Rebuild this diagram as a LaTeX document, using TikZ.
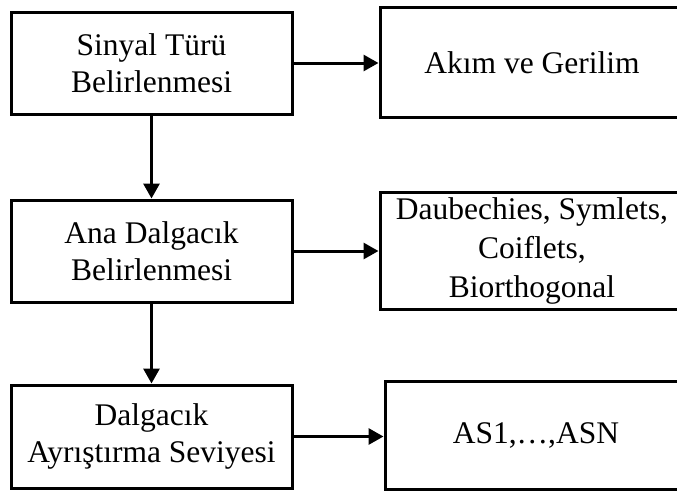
\documentclass[tikz,border=0pt]{standalone}
\usepackage{fontspec}
\setmainfont{Liberation Serif}
\usetikzlibrary{arrows.meta}

\begin{document}
\begin{tikzpicture}[x=1pt,y=-1pt,
    stage/.style={draw,line width=3pt,minimum width=281pt,minimum height=102pt,align=center,inner sep=2pt,font=\fontsize{31.5}{37}\selectfont},
    choice/.style={stage,minimum width=304pt},
    flow/.style={line width=3pt,-{Triangle[length=15pt,width=16pt]}}]
      \useasboundingbox (0,0) rectangle (677,491);
      \clip (0,0) rectangle (677,491);
      \node[stage] (stage 1) at (151.5,63) {Sinyal Türü\\Belirlenmesi};
      \node[stage] (stage 2) at (151.5,251) {Ana Dalgacık\\Belirlenmesi};
      \node[stage,minimum height=103pt] (stage 3) at (151.5,436.5) {Dalgacık\\Ayrıştırma Seviyesi};
      \node[choice,minimum height=110pt] (choice 1) at (532,62.5) {Akım ve Gerilim};
      \node[choice,minimum height=117pt,font=\fontsize{31.5}{39}\selectfont] (choice 2) at (532,250.5) {Daubechies, Symlets,\\Coiflets,\\Biorthogonal};
      \node[choice,minimum width=302pt,minimum height=108pt] (choice 3) at (536,435) {AS1,…,ASN};
      \draw[flow] (stage 1) -- (stage 2);
      \draw[flow] (stage 2) -- (stage 3);
      \draw[flow] (stage 1) -- (stage 1 -| choice 1.west);
      \draw[flow] (stage 2) -- (stage 2 -| choice 2.west);
      \draw[flow] (stage 3) -- (stage 3 -| choice 3.west);
    \end{tikzpicture}
\end{document}
